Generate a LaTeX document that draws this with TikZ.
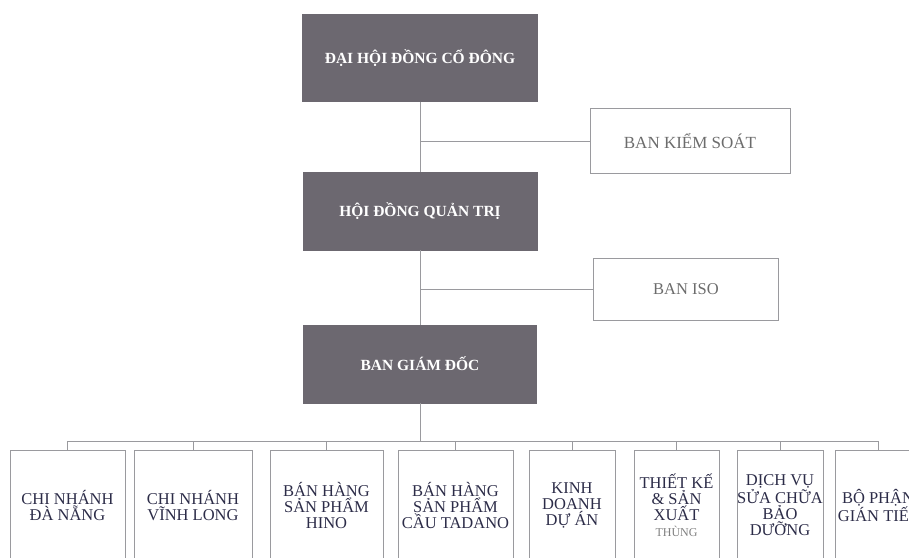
\documentclass[tikz,border=0pt]{standalone}
\usepackage{fontspec}
\setmainfont{Liberation Serif}
\definecolor{boxgray}{HTML}{6C6870}
\definecolor{linegray}{HTML}{9A9A9E}
\definecolor{textnavy}{HTML}{2C2C48}
\tikzstyle{boxd}=[rectangle,fill=boxgray,draw=boxgray,text=white,font=\fontsize{15.5}{17}\selectfont\bfseries,inner sep=0pt]
\tikzstyle{boxw}=[rectangle,draw=linegray,line width=0.8pt,text=gray!85!black,inner sep=0pt]
\tikzstyle{boxb}=[rectangle,draw=linegray,line width=0.8pt,text=textnavy,align=center,font=\fontsize{16.5}{16}\selectfont,inner sep=0pt,minimum height=110pt,anchor=north]

\begin{document}
\begin{tikzpicture}[x=1pt,y=-1pt]
    \useasboundingbox (0,0) rectangle (909,557);
    \node[boxd,minimum width=235pt,minimum height=87pt] (d1) at (420,58)  {ĐẠI HỘI ĐỒNG CỔ ĐÔNG};
    \node[boxd,minimum width=234pt,minimum height=78pt] (d2) at (420,211) {HỘI ĐỒNG QUẢN TRỊ};
    \node[boxd,minimum width=233pt,minimum height=78pt] (d3) at (420,364) {BAN GIÁM ĐỐC};
    \node[boxw,font=\fontsize{17}{18}\selectfont,minimum width=200pt,minimum height=65pt] (k1) at (690,141) {BAN KIỂM SOÁT};
    \node[boxw,font=\fontsize{16.5}{18}\selectfont,minimum width=185pt,minimum height=62pt] (k2) at (686,289) {BAN ISO};

    \node[boxb,minimum width=115pt] (n1) at (67.5,450)  {CHI NHÁNH\\ĐÀ NẴNG};
    \node[boxb,minimum width=118pt] (n2) at (193,450)   {CHI NHÁNH\\VĨNH LONG};
    \node[boxb,minimum width=113pt] (n3) at (326.5,450) {BÁN HÀNG\\SẢN PHẨM\\HINO};
    \node[boxb,minimum width=115pt] (n4) at (455.5,450) {BÁN HÀNG\\SẢN PHẨM\\CẦU TADANO};
    \node[boxb,minimum width=86pt]  (n5) at (572,450)   {KINH\\DOANH\\DỰ ÁN};
    \node[boxb,minimum width=85pt]  (n6) at (676.5,450) {THIẾT KẾ\\\& SẢN\\XUẤT\\{\fontsize{12}{14}\selectfont\color{gray}THÙNG}};
    \node[boxb,minimum width=86pt]  (n7) at (780,450)   {DỊCH VỤ\\SỬA CHỮA\\BẢO\\DƯỠNG};
    \node[boxb,minimum width=85pt]  (n8) at (878,450)   {BỘ PHẬN\\GIÁN TIẾP};

    \coordinate (b) at (420,441);

    \draw[linegray,line width=0.8pt] (d1) -- (d2) -- (d3) -- (b);
    \draw[linegray,line width=0.8pt] (d1 |- k1) -- (k1.west);
    \draw[linegray,line width=0.8pt] (d2 |- k2) -- (k2.west);
    \draw[linegray,line width=0.8pt] (n1 |- b) -- (n8 |- b);
    \foreach \to in {n1,n2,n3,n4,n5,n6,n7,n8}
    \draw[linegray,line width=0.8pt] (\to |- b) -- (\to.north);
\end{tikzpicture}
\end{document}
